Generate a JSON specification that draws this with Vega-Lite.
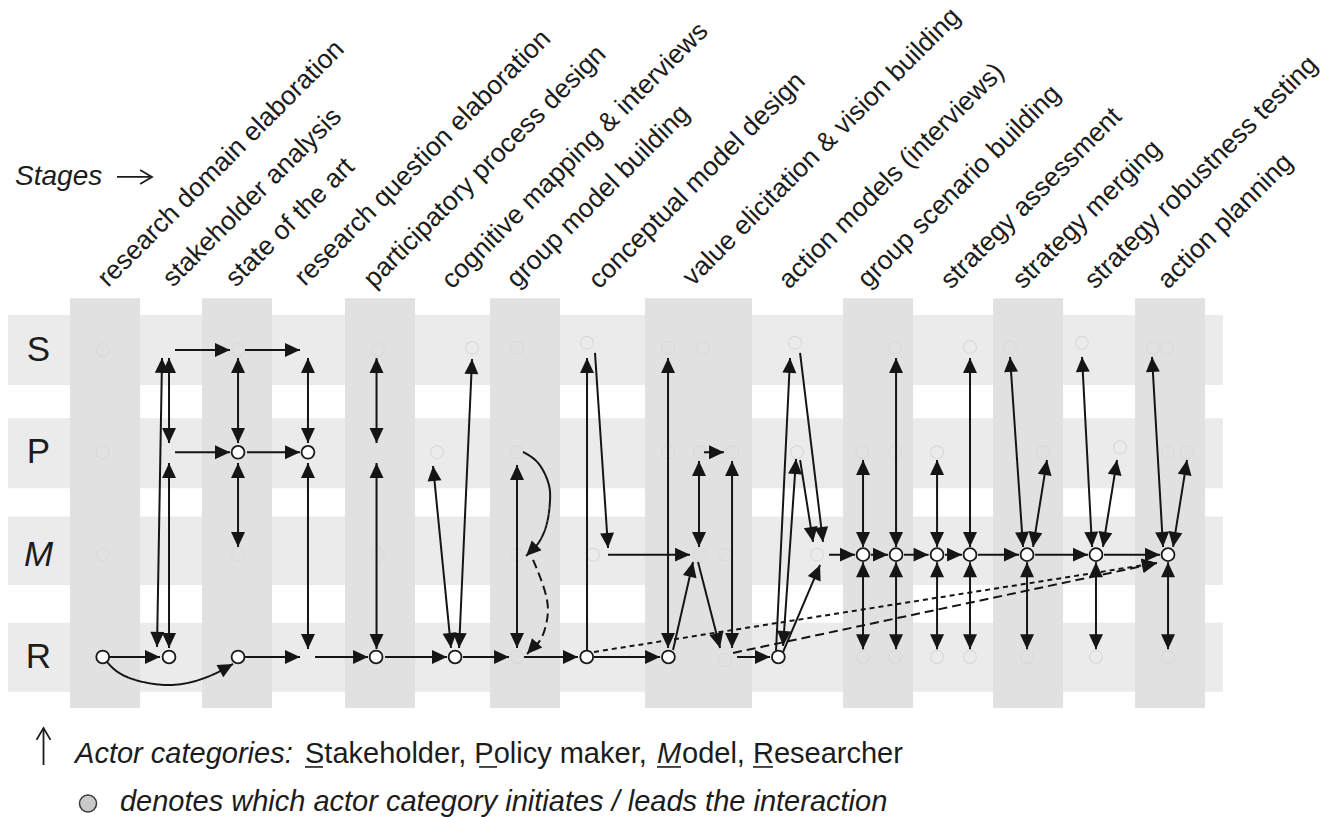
{
  "$schema": "https://vega.github.io/schema/vega-lite/v6.json",
  "width": 1336,
  "height": 817,
  "autosize": {"type": "none"},
  "padding": 0,
  "background": "white",
  "config": {"view": {"stroke": null}},
  "datasets": {
    "hb": [
      {"x": -0.277, "x2": 15.724, "y": -0.342, "y2": 0.342},
      {"x": -0.277, "x2": 15.724, "y": 0.668, "y2": 1.352},
      {"x": -0.277, "x2": 15.724, "y": 1.628, "y2": 2.296},
      {"x": -0.277, "x2": 15.724, "y": 2.665, "y2": 3.339}
    ],
    "vb": [
      {"x": 0.539, "x2": 1.461, "y": -0.505, "y2": 3.498},
      {"x": 2.277, "x2": 3.199, "y": -0.505, "y2": 3.498},
      {"x": 4.161, "x2": 5.083, "y": -0.505, "y2": 3.498},
      {"x": 6.071, "x2": 6.993, "y": -0.505, "y2": 3.498},
      {"x": 8.112, "x2": 9.521, "y": -0.505, "y2": 3.498},
      {"x": 10.720, "x2": 11.642, "y": -0.505, "y2": 3.498},
      {"x": 12.696, "x2": 13.618, "y": -0.505, "y2": 3.498},
      {"x": 14.566, "x2": 15.487, "y": -0.505, "y2": 3.498}
    ],
    "links": [
      {"x": 1.040, "y": 3, "x2": 1.724, "y2": 3, "st": "solid", "hs": 0, "he": 1},
      {"x": 1.751, "y": 0.078, "x2": 1.685, "y2": 2.902, "st": "solid", "hs": 1, "he": 1},
      {"x": 1.843, "y": 0.078, "x2": 1.843, "y2": 0.909, "st": "solid", "hs": 1, "he": 1},
      {"x": 1.843, "y": 1.104, "x2": 1.843, "y2": 2.912, "st": "solid", "hs": 1, "he": 1},
      {"x": 1.922, "y": 0, "x2": 2.646, "y2": 0, "st": "solid", "hs": 0, "he": 1},
      {"x": 2.844, "y": 0, "x2": 3.568, "y2": 0, "st": "solid", "hs": 0, "he": 1},
      {"x": 1.922, "y": 1, "x2": 2.646, "y2": 1, "st": "solid", "hs": 0, "he": 1},
      {"x": 2.870, "y": 1, "x2": 3.568, "y2": 1, "st": "solid", "hs": 0, "he": 1},
      {"x": 2.752, "y": 0.078, "x2": 2.752, "y2": 0.909, "st": "solid", "hs": 1, "he": 1},
      {"x": 2.752, "y": 1.104, "x2": 2.752, "y2": 1.925, "st": "solid", "hs": 1, "he": 1},
      {"x": 3.673, "y": 0.078, "x2": 3.673, "y2": 0.909, "st": "solid", "hs": 1, "he": 1},
      {"x": 3.673, "y": 1.104, "x2": 3.673, "y2": 2.922, "st": "solid", "hs": 1, "he": 1},
      {"x": 2.844, "y": 3, "x2": 3.568, "y2": 3, "st": "solid", "hs": 0, "he": 1},
      {"x": 3.766, "y": 3, "x2": 4.464, "y2": 3, "st": "solid", "hs": 0, "he": 1},
      {"x": 4.576, "y": 0.078, "x2": 4.576, "y2": 0.909, "st": "solid", "hs": 1, "he": 1},
      {"x": 4.576, "y": 1.104, "x2": 4.576, "y2": 2.922, "st": "solid", "hs": 1, "he": 1},
      {"x": 4.688, "y": 3, "x2": 5.504, "y2": 3, "st": "solid", "hs": 0, "he": 1},
      {"x": 5.320, "y": 1.134, "x2": 5.557, "y2": 2.912, "st": "solid", "hs": 1, "he": 1},
      {"x": 5.834, "y": 0.088, "x2": 5.663, "y2": 2.912, "st": "solid", "hs": 1, "he": 1},
      {"x": 5.715, "y": 3, "x2": 6.321, "y2": 3, "st": "solid", "hs": 0, "he": 1},
      {"x": 6.426, "y": 1.124, "x2": 6.426, "y2": 2.912, "st": "solid", "hs": 1, "he": 1},
      {"x": 6.518, "y": 3, "x2": 7.229, "y2": 3, "st": "solid", "hs": 0, "he": 1},
      {"x": 7.348, "y": 2.941, "x2": 7.348, "y2": 0.078, "st": "solid", "hs": 0, "he": 1},
      {"x": 7.453, "y": 0.029, "x2": 7.625, "y2": 1.935, "st": "solid", "hs": 0, "he": 1},
      {"x": 7.625, "y": 2, "x2": 8.705, "y2": 2, "st": "solid", "hs": 0, "he": 1},
      {"x": 7.440, "y": 3, "x2": 8.310, "y2": 3, "st": "solid", "hs": 0, "he": 1},
      {"x": 7.440, "y": 2.951, "x2": 14.855, "y2": 2.082, "st": "dotted", "hs": 0, "he": 1},
      {"x": 9.271, "y": 2.961, "x2": 14.855, "y2": 2.082, "st": "dashed", "hs": 0, "he": 1},
      {"x": 8.415, "y": 0.078, "x2": 8.415, "y2": 2.912, "st": "solid", "hs": 1, "he": 1},
      {"x": 8.481, "y": 2.932, "x2": 8.744, "y2": 2.072, "st": "solid", "hs": 0, "he": 1},
      {"x": 8.810, "y": 2.072, "x2": 9.100, "y2": 2.912, "st": "solid", "hs": 0, "he": 1},
      {"x": 8.823, "y": 1.085, "x2": 8.823, "y2": 1.925, "st": "solid", "hs": 1, "he": 1},
      {"x": 8.889, "y": 1, "x2": 9.152, "y2": 1, "st": "dashed", "hs": 0, "he": 1},
      {"x": 9.258, "y": 1.085, "x2": 9.258, "y2": 2.912, "st": "solid", "hs": 1, "he": 1},
      {"x": 9.323, "y": 3, "x2": 9.758, "y2": 3, "st": "solid", "hs": 0, "he": 1},
      {"x": 9.837, "y": 2.941, "x2": 10.022, "y2": 0.078, "st": "solid", "hs": 0, "he": 1},
      {"x": 9.930, "y": 2.893, "x2": 10.101, "y2": 1.065, "st": "solid", "hs": 1, "he": 1},
      {"x": 10.154, "y": 1.075, "x2": 10.325, "y2": 1.876, "st": "solid", "hs": 0, "he": 1},
      {"x": 10.154, "y": 0.029, "x2": 10.456, "y2": 1.876, "st": "solid", "hs": 0, "he": 1},
      {"x": 9.930, "y": 2.951, "x2": 10.417, "y2": 2.101, "st": "solid", "hs": 0, "he": 1},
      {"x": 10.535, "y": 2, "x2": 10.877, "y2": 2, "st": "solid", "hs": 0, "he": 1},
      {"x": 11.088, "y": 2, "x2": 11.312, "y2": 2, "st": "solid", "hs": 0, "he": 1},
      {"x": 11.523, "y": 2, "x2": 11.846, "y2": 2, "st": "solid", "hs": 0, "he": 1},
      {"x": 12.063, "y": 2, "x2": 12.287, "y2": 2, "st": "solid", "hs": 0, "he": 1},
      {"x": 12.498, "y": 2, "x2": 13.037, "y2": 2, "st": "solid", "hs": 0, "he": 1},
      {"x": 13.248, "y": 2, "x2": 13.946, "y2": 2, "st": "solid", "hs": 0, "he": 1},
      {"x": 14.157, "y": 2, "x2": 14.894, "y2": 2, "st": "solid", "hs": 0, "he": 1},
      {"x": 10.983, "y": 1.075, "x2": 10.983, "y2": 1.925, "st": "solid", "hs": 1, "he": 1},
      {"x": 10.983, "y": 2.075, "x2": 10.983, "y2": 2.925, "st": "solid", "hs": 1, "he": 1},
      {"x": 11.418, "y": 0.078, "x2": 11.418, "y2": 1.925, "st": "solid", "hs": 1, "he": 1},
      {"x": 11.418, "y": 2.075, "x2": 11.418, "y2": 2.925, "st": "solid", "hs": 1, "he": 1},
      {"x": 11.958, "y": 1.075, "x2": 11.958, "y2": 1.925, "st": "solid", "hs": 1, "he": 1},
      {"x": 11.958, "y": 2.075, "x2": 11.958, "y2": 2.925, "st": "solid", "hs": 1, "he": 1},
      {"x": 12.392, "y": 0.078, "x2": 12.392, "y2": 1.925, "st": "solid", "hs": 1, "he": 1},
      {"x": 12.392, "y": 2.075, "x2": 12.392, "y2": 2.925, "st": "solid", "hs": 1, "he": 1},
      {"x": 12.919, "y": 0.068, "x2": 13.090, "y2": 1.925, "st": "solid", "hs": 1, "he": 1},
      {"x": 13.406, "y": 1.075, "x2": 13.222, "y2": 1.925, "st": "solid", "hs": 1, "he": 1},
      {"x": 13.143, "y": 2.075, "x2": 13.143, "y2": 2.925, "st": "solid", "hs": 1, "he": 1},
      {"x": 13.867, "y": 0.068, "x2": 13.999, "y2": 1.925, "st": "solid", "hs": 1, "he": 1},
      {"x": 14.328, "y": 1.075, "x2": 14.143, "y2": 1.925, "st": "solid", "hs": 1, "he": 1},
      {"x": 14.051, "y": 2.075, "x2": 14.051, "y2": 2.925, "st": "solid", "hs": 1, "he": 1},
      {"x": 14.789, "y": 0.068, "x2": 14.934, "y2": 1.925, "st": "solid", "hs": 1, "he": 1},
      {"x": 15.250, "y": 1.075, "x2": 15.066, "y2": 1.925, "st": "solid", "hs": 1, "he": 1},
      {"x": 15.0, "y": 2.075, "x2": 15.0, "y2": 2.925, "st": "solid", "hs": 1, "he": 1},
      {"x": 2.542, "y": 3.127, "x2": 2.686, "y2": 3.068, "st": "solid", "hs": 0, "he": 1},
      {"x": 6.677, "y": 1.915, "x2": 6.545, "y2": 2.013, "st": "solid", "hs": 0, "he": 1},
      {"x": 6.690, "y": 2.863, "x2": 6.558, "y2": 2.971, "st": "solid", "hs": 0, "he": 1}
    ],
    "curves": [
      {"id": "c1", "o": 1, "x": 1.026, "y": 3.049, "st": "solid"},
      {"id": "c1", "o": 2, "x": 1.291, "y": 3.196, "st": "solid"},
      {"id": "c1", "o": 3, "x": 1.856, "y": 3.274, "st": "solid"},
      {"id": "c1", "o": 4, "x": 2.343, "y": 3.196, "st": "solid"},
      {"id": "c1", "o": 5, "x": 2.600, "y": 3.105, "st": "solid"},
      {"id": "c2", "o": 1, "x": 6.505, "y": 0.997, "st": "solid"},
      {"id": "c2", "o": 2, "x": 6.703, "y": 1.104, "st": "solid"},
      {"id": "c2", "o": 3, "x": 6.835, "y": 1.290, "st": "solid"},
      {"id": "c2", "o": 4, "x": 6.861, "y": 1.466, "st": "solid"},
      {"id": "c2", "o": 5, "x": 6.821, "y": 1.691, "st": "solid"},
      {"id": "c2", "o": 6, "x": 6.730, "y": 1.860, "st": "solid"},
      {"id": "c2", "o": 7, "x": 6.640, "y": 1.950, "st": "solid"},
      {"id": "c3", "o": 1, "x": 6.637, "y": 2.052, "st": "dashed"},
      {"id": "c3", "o": 2, "x": 6.729, "y": 2.218, "st": "dashed"},
      {"id": "c3", "o": 3, "x": 6.821, "y": 2.443, "st": "dashed"},
      {"id": "c3", "o": 4, "x": 6.821, "y": 2.638, "st": "dashed"},
      {"id": "c3", "o": 5, "x": 6.755, "y": 2.805, "st": "dashed"},
      {"id": "c3", "o": 6, "x": 6.660, "y": 2.900, "st": "dashed"}
    ],
    "leads": [
      {"x": 0.970, "y": 3}, {"x": 1.843, "y": 3}, {"x": 2.752, "y": 1}, {"x": 2.752, "y": 3},
      {"x": 3.673, "y": 1}, {"x": 4.570, "y": 3}, {"x": 5.610, "y": 3}, {"x": 7.344, "y": 3},
      {"x": 8.420, "y": 3}, {"x": 9.868, "y": 3}, {"x": 10.983, "y": 2}, {"x": 11.418, "y": 2},
      {"x": 11.958, "y": 2}, {"x": 12.392, "y": 2}, {"x": 13.143, "y": 2}, {"x": 14.051, "y": 2},
      {"x": 15.0, "y": 2}
    ],
    "ghosts": [
      {"x": 0.970, "y": 0}, {"x": 0.970, "y": 1}, {"x": 0.970, "y": 2},
      {"x": 2.752, "y": 0}, {"x": 2.752, "y": 2},
      {"x": 4.595, "y": 0}, {"x": 4.595, "y": 2},
      {"x": 5.372, "y": 1}, {"x": 5.834, "y": -0.02},
      {"x": 6.426, "y": -0.02}, {"x": 6.426, "y": 1}, {"x": 6.426, "y": 2}, {"x": 6.426, "y": 3},
      {"x": 7.348, "y": -0.07}, {"x": 7.427, "y": 2},
      {"x": 8.415, "y": -0.02}, {"x": 8.875, "y": -0.02}, {"x": 8.415, "y": 1}, {"x": 8.836, "y": 1},
      {"x": 9.258, "y": 1}, {"x": 8.836, "y": 2}, {"x": 9.166, "y": 2}, {"x": 9.166, "y": 3.03},
      {"x": 10.088, "y": -0.07}, {"x": 10.114, "y": 1}, {"x": 10.377, "y": 2},
      {"x": 10.970, "y": 1}, {"x": 11.405, "y": 1}, {"x": 11.405, "y": -0.02},
      {"x": 11.958, "y": 1}, {"x": 12.392, "y": -0.03},
      {"x": 12.919, "y": -0.03}, {"x": 13.354, "y": 1},
      {"x": 13.867, "y": -0.07}, {"x": 14.368, "y": 0.95},
      {"x": 14.802, "y": -0.02}, {"x": 14.987, "y": -0.02}, {"x": 15.0, "y": 1}, {"x": 15.25, "y": 1},
      {"x": 10.983, "y": 3}, {"x": 11.405, "y": 3}, {"x": 11.958, "y": 3}, {"x": 12.392, "y": 3},
      {"x": 13.143, "y": 3}, {"x": 14.051, "y": 3}, {"x": 15.0, "y": 3}
    ],
    "stages": [
      {"x": 1.039, "y": -0.606, "t": "research domain elaboration"},
      {"x": 1.895, "y": -0.606, "t": "stakeholder analysis"},
      {"x": 2.725, "y": -0.606, "t": "state of the art"},
      {"x": 3.634, "y": -0.616, "t": "research question elaboration"},
      {"x": 4.542, "y": -0.596, "t": "participatory process design"},
      {"x": 5.570, "y": -0.586, "t": "cognitive mapping & interviews"},
      {"x": 6.426, "y": -0.596, "t": "group model building"},
      {"x": 7.506, "y": -0.586, "t": "conceptual model design"},
      {"x": 8.744, "y": -0.616, "t": "value elicitation & vision building"},
      {"x": 10.008, "y": -0.586, "t": "action models (interviews)"},
      {"x": 11.049, "y": -0.596, "t": "group scenario building"},
      {"x": 12.142, "y": -0.586, "t": "strategy assessment"},
      {"x": 13.090, "y": -0.586, "t": "strategy merging"},
      {"x": 14.038, "y": -0.586, "t": "strategy robustness testing"},
      {"x": 15.000, "y": -0.586, "t": "action planning"}
    ],
    "actors": [
      {"x": 0.124, "y": 0, "t": "S", "it": 0},
      {"x": 0.124, "y": 1, "t": "P", "it": 0},
      {"x": 0.124, "y": 2, "t": "M", "it": 1},
      {"x": 0.124, "y": 3, "t": "R", "it": 0}
    ],
    "notes": [
      {"x": 0.606, "y": 4.036, "t": "Actor categories:", "it": 1},
      {"x": 3.634, "y": 4.036, "t": "Stakeholder, Policy maker,", "it": 0},
      {"x": 8.270, "y": 4.036, "t": "M", "it": 1},
      {"x": 8.599, "y": 4.036, "t": "odel, Researcher", "it": 0},
      {"x": 1.197, "y": 4.505, "t": "denotes which actor category initiates / leads the interaction", "it": 1}
    ],
    "underlines": [
      {"x": 3.634, "x2": 3.871, "y": 4.075},
      {"x": 5.926, "x2": 6.163, "y": 4.075},
      {"x": 8.270, "x2": 8.586, "y": 4.075},
      {"x": 9.534, "x2": 9.797, "y": 4.075}
    ],
    "legendmark": [{"x": 0.776, "y": 4.432}],
    "shafts": [
      {"x": 0.190, "x2": 0.190, "y": 3.700, "y2": 4.056},
      {"x": 1.158, "x2": 1.610, "y": -1.691, "y2": -1.691}
    ],
    "chevrons": [
      {"x": 0.190, "y": 3.694, "a": 0},
      {"x": 1.619, "y": -1.691, "a": 90}
    ],
    "stagetitle": [{"x": -0.185, "y": -1.612, "t": "Stages"}]
  },
  "layer": [
    {
      "data": {"name": "hb"},
      "mark": {"type": "rect", "color": "#ebebeb"},
      "encoding": {
        "x": {"field": "x", "type": "quantitative", "scale": {"domain": [-0.383, 17.212], "nice": false, "zero": false}, "axis": null},
        "x2": {"field": "x2"},
        "y": {"field": "y", "type": "quantitative", "scale": {"domain": [-3.42, 4.564], "nice": false, "zero": false, "reverse": true}, "axis": null},
        "y2": {"field": "y2"}
      }
    },
    {
      "data": {"name": "vb"},
      "mark": {"type": "rect", "color": "#e1e1e1"},
      "encoding": {
        "x": {"field": "x", "type": "quantitative", "scale": {"domain": [-0.383, 17.212], "nice": false, "zero": false}, "axis": null},
        "x2": {"field": "x2"},
        "y": {"field": "y", "type": "quantitative", "scale": {"domain": [-3.42, 4.564], "nice": false, "zero": false, "reverse": true}, "axis": null},
        "y2": {"field": "y2"}
      }
    },
    {
      "data": {"name": "ghosts"},
      "mark": {"type": "point", "shape": "circle", "filled": false, "size": 165, "stroke": "#d9d9d9", "strokeWidth": 1.1, "opacity": 1},
      "encoding": {
        "x": {"field": "x", "type": "quantitative", "scale": {"domain": [-0.383, 17.212], "nice": false, "zero": false}, "axis": null},
        "y": {"field": "y", "type": "quantitative", "scale": {"domain": [-3.42, 4.564], "nice": false, "zero": false, "reverse": true}, "axis": null}
      }
    },
    {
      "data": {"name": "links"},
      "mark": {"type": "rule", "color": "#151515", "strokeWidth": 2},
      "encoding": {
        "x": {"field": "x", "type": "quantitative", "scale": {"domain": [-0.383, 17.212], "nice": false, "zero": false}, "axis": null},
        "y": {"field": "y", "type": "quantitative", "scale": {"domain": [-3.42, 4.564], "nice": false, "zero": false, "reverse": true}, "axis": null},
        "x2": {"field": "x2"},
        "y2": {"field": "y2"},
        "strokeDash": {"field": "st", "type": "nominal", "scale": {"domain": ["solid", "dotted", "dashed"], "range": [[1, 0], [5, 4], [9, 5]]}, "legend": null}
      }
    },
    {
      "data": {"name": "curves"},
      "mark": {"type": "line", "color": "#151515", "strokeWidth": 2, "interpolate": "natural"},
      "encoding": {
        "x": {"field": "x", "type": "quantitative", "scale": {"domain": [-0.383, 17.212], "nice": false, "zero": false}, "axis": null},
        "y": {"field": "y", "type": "quantitative", "scale": {"domain": [-3.42, 4.564], "nice": false, "zero": false, "reverse": true}, "axis": null},
        "detail": {"field": "id", "type": "nominal"},
        "order": {"field": "o", "type": "quantitative"},
        "strokeDash": {"field": "st", "type": "nominal", "scale": {"domain": ["solid", "dotted", "dashed"], "range": [[1, 0], [5, 4], [9, 5]]}, "legend": null}
      }
    },
    {
      "data": {"name": "links"},
      "transform": [
        {"filter": "datum.he == 1"},
        {"calculate": "atan2((datum.x2 - datum.x) * 75.93, -(datum.y2 - datum.y) * 102.33) * 180 / PI", "as": "angE"}
      ],
      "mark": {"type": "point", "shape": "M0,0L0.93,2L-0.93,2Z", "filled": true, "size": 225, "color": "#151515", "opacity": 1, "strokeWidth": 0},
      "encoding": {
        "x": {"field": "x2", "type": "quantitative", "scale": {"domain": [-0.383, 17.212], "nice": false, "zero": false}, "axis": null},
        "y": {"field": "y2", "type": "quantitative", "scale": {"domain": [-3.42, 4.564], "nice": false, "zero": false, "reverse": true}, "axis": null},
        "angle": {"field": "angE", "type": "quantitative", "scale": null}
      }
    },
    {
      "data": {"name": "links"},
      "transform": [
        {"filter": "datum.hs == 1"},
        {"calculate": "atan2((datum.x - datum.x2) * 75.93, -(datum.y - datum.y2) * 102.33) * 180 / PI", "as": "angS"}
      ],
      "mark": {"type": "point", "shape": "M0,0L0.93,2L-0.93,2Z", "filled": true, "size": 225, "color": "#151515", "opacity": 1, "strokeWidth": 0},
      "encoding": {
        "x": {"field": "x", "type": "quantitative", "scale": {"domain": [-0.383, 17.212], "nice": false, "zero": false}, "axis": null},
        "y": {"field": "y", "type": "quantitative", "scale": {"domain": [-3.42, 4.564], "nice": false, "zero": false, "reverse": true}, "axis": null},
        "angle": {"field": "angS", "type": "quantitative", "scale": null}
      }
    },
    {
      "data": {"name": "leads"},
      "mark": {"type": "point", "shape": "circle", "filled": true, "size": 165, "fill": "white", "stroke": "#1a1a1a", "strokeWidth": 1.8, "opacity": 1},
      "encoding": {
        "x": {"field": "x", "type": "quantitative", "scale": {"domain": [-0.383, 17.212], "nice": false, "zero": false}, "axis": null},
        "y": {"field": "y", "type": "quantitative", "scale": {"domain": [-3.42, 4.564], "nice": false, "zero": false, "reverse": true}, "axis": null}
      }
    },
    {
      "data": {"name": "stages"},
      "mark": {"type": "text", "angle": -45, "align": "left", "baseline": "alphabetic", "font": "Liberation Sans", "fontSize": 26.5, "color": "#1c1c1c"},
      "encoding": {
        "x": {"field": "x", "type": "quantitative", "scale": {"domain": [-0.383, 17.212], "nice": false, "zero": false}, "axis": null},
        "y": {"field": "y", "type": "quantitative", "scale": {"domain": [-3.42, 4.564], "nice": false, "zero": false, "reverse": true}, "axis": null},
        "text": {"field": "t", "type": "nominal"}
      }
    },
    {
      "data": {"name": "stagetitle"},
      "mark": {"type": "text", "align": "left", "baseline": "alphabetic", "font": "Liberation Sans", "fontStyle": "italic", "fontSize": 28, "color": "#1c1c1c"},
      "encoding": {
        "x": {"field": "x", "type": "quantitative", "scale": {"domain": [-0.383, 17.212], "nice": false, "zero": false}, "axis": null},
        "y": {"field": "y", "type": "quantitative", "scale": {"domain": [-3.42, 4.564], "nice": false, "zero": false, "reverse": true}, "axis": null},
        "text": {"field": "t", "type": "nominal"}
      }
    },
    {
      "data": {"name": "shafts"},
      "mark": {"type": "rule", "color": "#1c1c1c", "strokeWidth": 1.8},
      "encoding": {
        "x": {"field": "x", "type": "quantitative", "scale": {"domain": [-0.383, 17.212], "nice": false, "zero": false}, "axis": null},
        "x2": {"field": "x2"},
        "y": {"field": "y", "type": "quantitative", "scale": {"domain": [-3.42, 4.564], "nice": false, "zero": false, "reverse": true}, "axis": null},
        "y2": {"field": "y2"}
      }
    },
    {
      "data": {"name": "chevrons"},
      "mark": {"type": "point", "shape": "M-1,1.7L0,0L1,1.7", "filled": false, "size": 196, "stroke": "#1c1c1c", "strokeWidth": 1.8, "opacity": 1},
      "encoding": {
        "x": {"field": "x", "type": "quantitative", "scale": {"domain": [-0.383, 17.212], "nice": false, "zero": false}, "axis": null},
        "y": {"field": "y", "type": "quantitative", "scale": {"domain": [-3.42, 4.564], "nice": false, "zero": false, "reverse": true}, "axis": null},
        "angle": {"field": "a", "type": "quantitative", "scale": null}
      }
    },
    {
      "data": {"name": "actors"},
      "transform": [{"filter": "datum.it == 0"}],
      "mark": {"type": "text", "align": "center", "baseline": "middle", "font": "Liberation Sans", "fontSize": 35, "color": "#1c1c1c"},
      "encoding": {
        "x": {"field": "x", "type": "quantitative", "scale": {"domain": [-0.383, 17.212], "nice": false, "zero": false}, "axis": null},
        "y": {"field": "y", "type": "quantitative", "scale": {"domain": [-3.42, 4.564], "nice": false, "zero": false, "reverse": true}, "axis": null},
        "text": {"field": "t", "type": "nominal"}
      }
    },
    {
      "data": {"name": "actors"},
      "transform": [{"filter": "datum.it == 1"}],
      "mark": {"type": "text", "align": "center", "baseline": "middle", "font": "Liberation Sans", "fontStyle": "italic", "fontSize": 35, "color": "#1c1c1c"},
      "encoding": {
        "x": {"field": "x", "type": "quantitative", "scale": {"domain": [-0.383, 17.212], "nice": false, "zero": false}, "axis": null},
        "y": {"field": "y", "type": "quantitative", "scale": {"domain": [-3.42, 4.564], "nice": false, "zero": false, "reverse": true}, "axis": null},
        "text": {"field": "t", "type": "nominal"}
      }
    },
    {
      "data": {"name": "notes"},
      "transform": [{"filter": "datum.it == 0"}],
      "mark": {"type": "text", "align": "left", "baseline": "alphabetic", "font": "Liberation Sans", "fontSize": 29, "color": "#1c1c1c"},
      "encoding": {
        "x": {"field": "x", "type": "quantitative", "scale": {"domain": [-0.383, 17.212], "nice": false, "zero": false}, "axis": null},
        "y": {"field": "y", "type": "quantitative", "scale": {"domain": [-3.42, 4.564], "nice": false, "zero": false, "reverse": true}, "axis": null},
        "text": {"field": "t", "type": "nominal"}
      }
    },
    {
      "data": {"name": "notes"},
      "transform": [{"filter": "datum.it == 1"}],
      "mark": {"type": "text", "align": "left", "baseline": "alphabetic", "font": "Liberation Sans", "fontStyle": "italic", "fontSize": 29, "color": "#1c1c1c"},
      "encoding": {
        "x": {"field": "x", "type": "quantitative", "scale": {"domain": [-0.383, 17.212], "nice": false, "zero": false}, "axis": null},
        "y": {"field": "y", "type": "quantitative", "scale": {"domain": [-3.42, 4.564], "nice": false, "zero": false, "reverse": true}, "axis": null},
        "text": {"field": "t", "type": "nominal"}
      }
    },
    {
      "data": {"name": "underlines"},
      "mark": {"type": "rule", "color": "#1c1c1c", "strokeWidth": 1.6},
      "encoding": {
        "x": {"field": "x", "type": "quantitative", "scale": {"domain": [-0.383, 17.212], "nice": false, "zero": false}, "axis": null},
        "x2": {"field": "x2"},
        "y": {"field": "y", "type": "quantitative", "scale": {"domain": [-3.42, 4.564], "nice": false, "zero": false, "reverse": true}, "axis": null}
      }
    },
    {
      "data": {"name": "legendmark"},
      "mark": {"type": "point", "shape": "circle", "filled": true, "size": 290, "fill": "#c9c9c9", "stroke": "#3a3a3a", "strokeWidth": 1.5, "opacity": 1},
      "encoding": {
        "x": {"field": "x", "type": "quantitative", "scale": {"domain": [-0.383, 17.212], "nice": false, "zero": false}, "axis": null},
        "y": {"field": "y", "type": "quantitative", "scale": {"domain": [-3.42, 4.564], "nice": false, "zero": false, "reverse": true}, "axis": null}
      }
    }
  ]
}
